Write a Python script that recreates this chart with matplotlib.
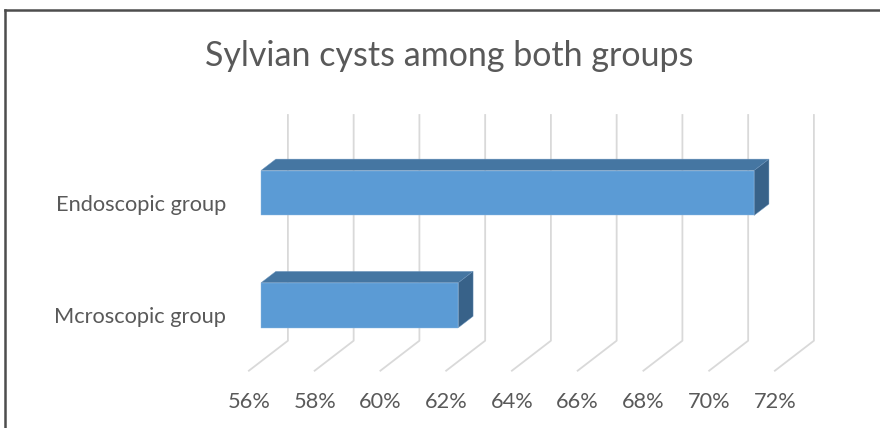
import matplotlib
matplotlib.use('Agg')
import matplotlib.pyplot as plt
from matplotlib.patches import Polygon
from matplotlib.transforms import IdentityTransform
from matplotlib.lines import Line2D

# ---- data ----
categories = ['Mcroscopic group', 'Endoscopic group']
values = [62, 71]
xticks = [56, 58, 60, 62, 64, 66, 68, 70, 72]
xtick_labels = ['56%', '58%', '60%', '62%', '64%', '66%', '68%', '70%', '72%']
title = 'Sylvian cysts among both groups'

plt.rcParams['font.family'] = ['Lato', 'DejaVu Sans']

W, H = 880, 428
fig = plt.figure(figsize=(W / 100, H / 100), dpi=100)
fig.patch.set_facecolor('white')

def fy(ytop):
    return 1 - ytop / H

# axes = plane of the bars' front faces
ax_bottom_px, ax_top_px = 361.4, 135.7
ax = fig.add_axes([261 / W, fy(ax_bottom_px), 526 / W, (ax_bottom_px - ax_top_px) / H])
ax.set_xlim(xticks[0], xticks[-1])
ax.set_ylim(-0.5, 1.51)
ax.axis('off')

DX, DY = 39.0, 30.0   # full depth of the 3D box in pixels
Z_AX = 0.31           # depth of the bars' front face
Z_BACK_BAR = 0.69     # depth of the bars' back face
BAR_H = 0.40

ident = IdentityTransform()

def disp(x, y, z):
    px, py = ax.transData.transform((x, y))
    return (px + (z - Z_AX) * DX, py + (z - Z_AX) * DY)

y0, y1 = ax.get_ylim()
grid_c = '#d9d9d9'
for v in xticks:
    p_top = disp(v, y1, 1.0)
    p_bot = disp(v, y0, 1.0)
    p_front = disp(v, y0, 0.0)
    fig.add_artist(Line2D([p_top[0], p_bot[0], p_front[0]],
                          [p_top[1], p_bot[1], p_front[1]],
                          color=grid_c, lw=1.3, transform=ident, zorder=1))

front_c = '#5b9bd5'
top_c = '#4576a2'
side_c = '#386289'
x_min = xticks[0]
for i, v in enumerate(values):
    b, t = i - BAR_H / 2, i + BAR_H / 2
    zf, zb = Z_AX, Z_BACK_BAR
    top_face = [disp(x_min, t, zf), disp(v, t, zf), disp(v, t, zb), disp(x_min, t, zb)]
    side_face = [disp(v, b, zf), disp(v, t, zf), disp(v, t, zb), disp(v, b, zb)]
    front_face = [disp(x_min, b, zf), disp(v, b, zf), disp(v, t, zf), disp(x_min, t, zf)]
    for pts, c, ec in ((top_face, top_c, '#6f98c0'), (side_face, side_c, '#6f98c0'),
                       (front_face, front_c, '#8db8e3')):
        fig.add_artist(Polygon(pts, closed=True, facecolor=c, edgecolor=ec,
                               lw=0.3, transform=ident, zorder=2))

renderer = fig.canvas.get_renderer()

def fit(txt, target_w):
    w = txt.get_window_extent(renderer).width
    txt.set_fontsize(txt.get_fontsize() * target_w / w)
    return txt.get_fontsize()

text_c = '#595959'

# category labels
cat_texts = []
for i, name in enumerate(categories):
    px, py = disp(x_min, i, 0.0)
    t = fig.text(px - 23, py - 8.4, name, transform=ident, ha='right', va='baseline',
                 color=text_c, fontsize=12, zorder=3)
    cat_texts.append(t)
fs = fit(cat_texts[1], 170)
for t in cat_texts:
    t.set_fontsize(fs)

# tick labels
for v, lab in zip(xticks, xtick_labels):
    px, py = disp(v, y0, 0.0)
    fig.text(px, py - 37, lab, transform=ident, ha='center', va='baseline',
             color=text_c, fontsize=fs, zorder=3)

# title
tt = fig.text(449 / W, fy(66), title, ha='center', va='baseline', color=text_c,
              fontsize=20, zorder=3)
fit(tt, 488)

# border (top and left)
bc = '#4d4d4d'
fig.add_artist(Line2D([5, W], [H - 10, H - 10], color=bc, lw=1.8, transform=ident, zorder=4))
fig.add_artist(Line2D([5, 5], [0, H - 10], color=bc, lw=1.8, transform=ident, zorder=4))

fig.savefig('out.png', dpi=100)
